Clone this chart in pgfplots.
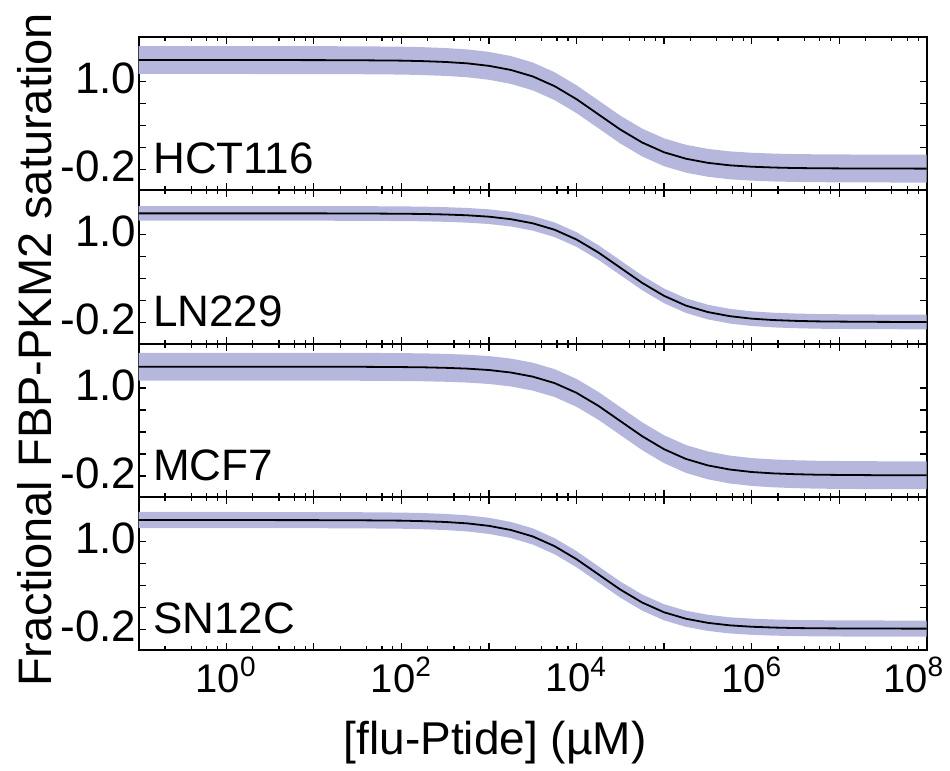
\documentclass[border=0pt]{standalone}
\usepackage{fontspec}
\setmainfont{Liberation Sans}
\usepackage{pgfplots}
\usepackage{pgfplotstable}
\pgfplotsset{compat=1.18}
\usepgfplotslibrary{fillbetween}
\definecolor{bandc}{RGB}{181,183,221}

% HCT116
\pgfplotstableread{
x y lo hi
0.1 1.290 1.100 1.480
1 1.290 1.100 1.480
10 1.289 1.099 1.479
31.623 1.287 1.097 1.477
100 1.282 1.092 1.472
177.83 1.275 1.085 1.465
316.23 1.264 1.074 1.454
562.34 1.245 1.055 1.435
1000 1.211 1.021 1.401
1778.3 1.155 0.965 1.345
3162.3 1.067 0.877 1.257
5623.4 0.934 0.744 1.124
10000 0.757 0.567 0.947
17783 0.550 0.360 0.740
31623 0.343 0.153 0.533
56234 0.166 -0.024 0.356
100000 0.033 -0.157 0.223
177828 -0.055 -0.245 0.135
316228 -0.111 -0.301 0.079
562341 -0.145 -0.335 0.045
1000000 -0.164 -0.354 0.026
1778279 -0.175 -0.365 0.015
3162278 -0.182 -0.372 0.008
5623413 -0.185 -0.375 0.005
10000000 -0.187 -0.377 0.003
31622777 -0.189 -0.379 0.001
100000000 -0.190 -0.380 0.000
}\dataA

% LN229
\pgfplotstableread{
x y lo hi
0.1 1.290 1.190 1.390
1 1.290 1.190 1.390
10 1.290 1.190 1.390
31.623 1.289 1.189 1.389
100 1.285 1.185 1.385
177.83 1.282 1.182 1.382
316.23 1.275 1.175 1.375
562.34 1.264 1.164 1.364
1000 1.245 1.145 1.345
1778.3 1.211 1.111 1.311
3162.3 1.155 1.055 1.255
5623.4 1.067 0.967 1.167
10000 0.934 0.834 1.034
17783 0.757 0.657 0.857
31623 0.550 0.450 0.650
56234 0.343 0.243 0.443
100000 0.166 0.066 0.266
177828 0.033 -0.067 0.133
316228 -0.055 -0.155 0.045
562341 -0.111 -0.211 -0.011
1000000 -0.145 -0.245 -0.045
1778279 -0.164 -0.264 -0.064
3162278 -0.175 -0.275 -0.075
5623413 -0.182 -0.282 -0.082
10000000 -0.185 -0.285 -0.085
31622777 -0.189 -0.289 -0.089
100000000 -0.190 -0.290 -0.090
}\dataB

% MCF7
\pgfplotstableread{
x y lo hi
0.1 1.290 1.100 1.480
1 1.290 1.100 1.480
10 1.290 1.100 1.480
31.623 1.289 1.099 1.479
100 1.285 1.095 1.475
177.83 1.282 1.092 1.472
316.23 1.275 1.085 1.465
562.34 1.264 1.074 1.454
1000 1.245 1.055 1.435
1778.3 1.211 1.021 1.401
3162.3 1.155 0.965 1.345
5623.4 1.067 0.877 1.257
10000 0.934 0.744 1.124
17783 0.757 0.567 0.947
31623 0.550 0.360 0.740
56234 0.343 0.153 0.533
100000 0.166 -0.024 0.356
177828 0.033 -0.157 0.223
316228 -0.055 -0.245 0.135
562341 -0.111 -0.301 0.079
1000000 -0.145 -0.335 0.045
1778279 -0.164 -0.354 0.026
3162278 -0.175 -0.365 0.015
5623413 -0.182 -0.372 0.008
10000000 -0.185 -0.375 0.005
31622777 -0.189 -0.379 0.001
100000000 -0.190 -0.380 0.000
}\dataC

% SN12C
\pgfplotstableread{
x y lo hi
0.1 1.290 1.180 1.400
1 1.290 1.180 1.400
10 1.289 1.179 1.399
31.623 1.287 1.177 1.397
100 1.282 1.172 1.392
177.83 1.275 1.165 1.385
316.23 1.264 1.154 1.374
562.34 1.245 1.135 1.355
1000 1.211 1.101 1.321
1778.3 1.155 1.045 1.265
3162.3 1.067 0.957 1.177
5623.4 0.934 0.824 1.044
10000 0.757 0.647 0.867
17783 0.550 0.440 0.660
31623 0.343 0.233 0.453
56234 0.166 0.056 0.276
100000 0.033 -0.077 0.143
177828 -0.055 -0.165 0.055
316228 -0.111 -0.221 -0.001
562341 -0.145 -0.255 -0.035
1000000 -0.164 -0.274 -0.054
1778279 -0.175 -0.285 -0.065
3162278 -0.182 -0.292 -0.072
5623413 -0.185 -0.295 -0.075
10000000 -0.187 -0.297 -0.077
31622777 -0.189 -0.299 -0.079
100000000 -0.190 -0.300 -0.080
}\dataD

\pgfplotsset{
  mypanel/.style={
    scale only axis,
    width=394pt, height=76.67pt,
    xmin=0.1, xmax=1e8,
    ymin=-0.486, ymax=1.604,
    ytick={-0.2,0.1,0.4,0.7,1.0},
    yticklabels={-0.2,,,,1.0},
    xtick={0.1,1,10,100,1e3,1e4,1e5,1e6,1e7,1e8},
    xticklabels={},
    minor xtick={0.2,0.4,0.6,0.8,2,4,6,8,20,40,60,80,200,400,600,800,2e3,4e3,6e3,8e3,2e4,4e4,6e4,8e4,2e5,4e5,6e5,8e5,2e6,4e6,6e6,8e6,2e7,4e7,6e7,8e7},
    tick align=inside,
    major tick length=3.5pt,
    minor tick length=2pt,
    axis line style={line width=1pt},
    every tick/.append style={black, line width=0.6pt},
    xticklabel style={font=\fontsize{20}{22}\selectfont},
    yticklabel style={font=\fontsize{22}{24}\selectfont, inner sep=1pt, yshift=1.5pt},
    anchor=north west,
  },
}
\tikzset{celllab/.style={font=\fontsize{22}{26}\selectfont, anchor=base west, inner sep=0pt}}

\begin{document}
\begin{tikzpicture}
\begin{semilogxaxis}[mypanel, at={(0pt,0pt)}]
\addplot[name path=hiA, draw=none] table[x=x,y=hi]{\dataA};
\addplot[name path=loA, draw=none] table[x=x,y=lo]{\dataA};
\addplot[fill=bandc, draw=none] fill between[of=hiA and loA];
\addplot[black, line width=0.9pt] table[x=x,y=y]{\dataA};
\node[celllab] at (rel axis cs:0.018,0.109) {HCT116};
\end{semilogxaxis}

\begin{semilogxaxis}[mypanel, at={(0pt,-76.67pt)}]
\addplot[name path=hiB, draw=none] table[x=x,y=hi]{\dataB};
\addplot[name path=loB, draw=none] table[x=x,y=lo]{\dataB};
\addplot[fill=bandc, draw=none] fill between[of=hiB and loB];
\addplot[black, line width=0.9pt] table[x=x,y=y]{\dataB};
\node[celllab] at (rel axis cs:0.018,0.109) {LN229};
\end{semilogxaxis}

\begin{semilogxaxis}[mypanel, at={(0pt,-153.34pt)}]
\addplot[name path=hiC, draw=none] table[x=x,y=hi]{\dataC};
\addplot[name path=loC, draw=none] table[x=x,y=lo]{\dataC};
\addplot[fill=bandc, draw=none] fill between[of=hiC and loC];
\addplot[black, line width=0.9pt] table[x=x,y=y]{\dataC};
\node[celllab] at (rel axis cs:0.018,0.109) {MCF7};
\end{semilogxaxis}

\begin{semilogxaxis}[mypanel, at={(0pt,-230.01pt)},
  xticklabels={,10\textsuperscript{0},,10\textsuperscript{2},,10\textsuperscript{4},,10\textsuperscript{6},,\hspace*{-13pt}10\textsuperscript{8}}]
\addplot[name path=hiD, draw=none] table[x=x,y=hi]{\dataD};
\addplot[name path=loD, draw=none] table[x=x,y=lo]{\dataD};
\addplot[fill=bandc, draw=none] fill between[of=hiD and loD];
\addplot[black, line width=0.9pt] table[x=x,y=y]{\dataD};
\node[celllab] at (rel axis cs:0.018,0.109) {SN12C};
\end{semilogxaxis}

\node[rotate=90, font=\fontsize{23.5}{26}\selectfont] at (-51.85pt,-156.5pt) {Fractional FBP-PKM2 saturation};
\node[font=\fontsize{23}{26}\selectfont] at (178.2pt,-353pt) {[flu-Ptide] (µM)};

\pgfresetboundingbox
\useasboundingbox (-69.35pt,18.5pt) rectangle (405.65pt,-367pt);
\end{tikzpicture}
\end{document}
